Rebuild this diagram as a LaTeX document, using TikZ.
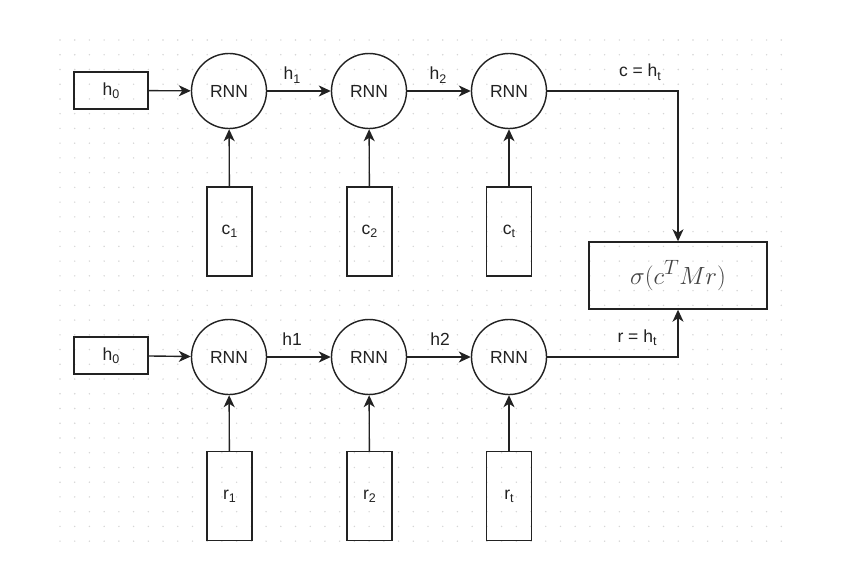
\documentclass[tikz,border=0pt]{standalone}
\usepackage{fontspec}
\setmainfont{Liberation Sans}
\usetikzlibrary{arrows.meta}
\definecolor{dotc}{HTML}{D6D6D6}
\definecolor{linec}{HTML}{222222}
\definecolor{formc}{HTML}{444444}
\newcommand{\subx}[1]{\raisebox{-0.35ex}{\fontsize{12.5}{14}\selectfont #1}}
\begin{document}
\begin{tikzpicture}[x=1pt,y=-1pt,
  lbl/.style={font=\fontsize{17.5}{20}\selectfont, text=linec},
  rnn/.style={circle, draw=linec, line width=1.4pt, minimum size=75pt, inner sep=0pt, lbl},
  hbox/.style={rectangle, draw=linec, line width=1.4pt, minimum width=74pt, minimum height=37pt, inner sep=0pt, lbl},
  inbox/.style={rectangle, draw=linec, line width=1.4pt, minimum width=45pt, minimum height=89pt, inner sep=0pt, lbl},
  conn/.style={draw=linec, line width=1.4pt, -{Stealth[length=12pt,width=11pt,inset=3.5pt]}},
  elbl/.style={lbl, inner sep=0pt, anchor=base}]
\useasboundingbox (0,0) rectangle (864,583);
\fill[white] (0,0) rectangle (864,583);
% dot grid
\foreach \i in {0,...,49}{
  \foreach \j in {0,...,34}{
    \fill[dotc] ({60+14.72*\i},{40+14.74*\j}) circle (0.8pt);
  }
}
% top row
\node[hbox] (th0) at (111,90.5) {h\subx{0}};
\node[rnn] (tr1) at (229,91) {RNN};
\node[rnn] (tr2) at (369,91) {RNN};
\node[rnn] (tr3) at (509,91) {RNN};
\node[inbox] (c1) at (229.5,231.5) {c\subx{1}};
\node[inbox] (c2) at (369.5,231.5) {c\subx{2}};
\node[inbox] (ct) at (509,231.5) {c\subx{t}};
% bottom row
\node[hbox] (bh0) at (111,355.5) {h\subx{0}};
\node[rnn] (br1) at (229,357) {RNN};
\node[rnn] (br2) at (369,357) {RNN};
\node[rnn] (br3) at (509,357) {RNN};
\node[inbox] (r1) at (229.5,496) {r\subx{1}};
\node[inbox] (r2) at (369.5,496) {r\subx{2}};
\node[inbox] (rt) at (509,496) {r\subx{t}};
% sigma
\node[rectangle, draw=linec, line width=1.4pt, minimum width=178pt, minimum height=67pt, inner sep=0pt, text=formc, font=\fontsize{28}{32}\selectfont] (sig) at (678,275.5) {$\sigma(c^TMr)$};
% connectors
\draw[conn] (th0) -- (tr1);
\draw[conn] (tr1) -- (tr2);
\draw[conn] (tr2) -- (tr3);
\draw[conn] (c1) -- (tr1);
\draw[conn] (c2) -- (tr2);
\draw[conn] (ct) -- (tr3);
\draw[conn] (tr3.east) -| (sig.north);
\draw[conn] (bh0) -- (br1);
\draw[conn] (br1) -- (br2);
\draw[conn] (br2) -- (br3);
\draw[conn] (r1) -- (br1);
\draw[conn] (r2) -- (br2);
\draw[conn] (rt) -- (br3);
\draw[conn] (br3.east) -| (sig.south);
% labels
\node[elbl] (l1) at (292,80) {h\subx{1}};
\node[elbl] (l2) at (438,80) {h\subx{2}};
\node[elbl] (l3) at (640,77) {c = h\subx{t}};
\node[elbl] (l4) at (292,345) {h1};
\node[elbl] (l5) at (440,345) {h2};
\node[elbl] (l6) at (637,342) {r = h\subx{t}};
\end{tikzpicture}
\end{document}
